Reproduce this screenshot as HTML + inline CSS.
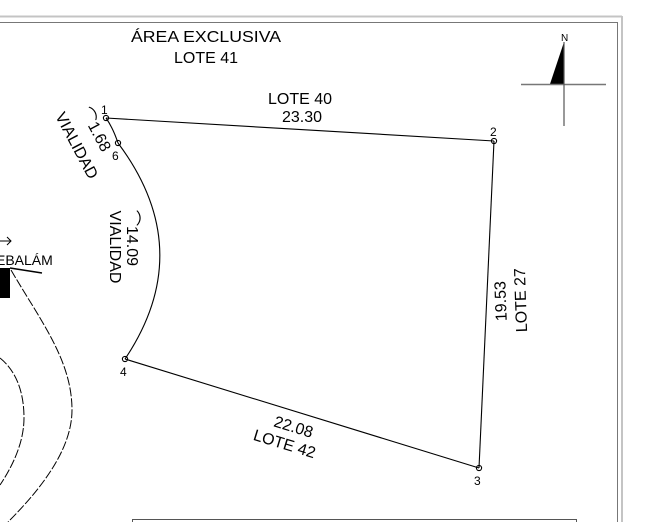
<!DOCTYPE html><html><head><style>body{margin:0;background:#fff}svg{display:block}text{font-family:"Liberation Sans",sans-serif;fill:#000}</style></head><body>
<svg width="647" height="522" viewBox="0 0 647 522">
<line x1="0" y1="16.5" x2="622" y2="16.5" stroke="#c4c4c4" stroke-width="2"/>
<line x1="622" y1="16" x2="622" y2="522" stroke="#c4c4c4" stroke-width="2"/>
<line x1="0" y1="22.5" x2="617" y2="22.5" stroke="#777" stroke-width="1"/>
<line x1="617.5" y1="22" x2="617.5" y2="522" stroke="#777" stroke-width="1"/>
<rect x="132.5" y="519.5" width="444" height="10" fill="none" stroke="#555"/>
<polygon points="564,42 564,84 550,84" fill="#000"/>
<line x1="521" y1="84.5" x2="606" y2="84.5" stroke="#777" stroke-width="1.5"/>
<line x1="564" y1="42" x2="564" y2="126" stroke="#555" stroke-width="1.2"/>
<text x="561" y="41" font-size="10">N</text>
<text x="131" y="42" font-size="16" textLength="150" lengthAdjust="spacingAndGlyphs">ÁREA EXCLUSIVA</text>
<text x="206" y="63" font-size="16" text-anchor="middle">LOTE 41</text>
<g stroke="#000" stroke-width="1.1" fill="none">
<line x1="106" y1="118" x2="494" y2="141"/>
<line x1="494" y1="141" x2="479" y2="468"/>
<line x1="479" y1="468" x2="125" y2="359"/>
<path d="M106,118 Q113,128 118,143"/>
<path d="M118,143 Q198,250 125,359"/>
<circle cx="106" cy="118" r="2.6"/><circle cx="494" cy="141" r="2.6"/>
<circle cx="479" cy="468" r="2.6"/><circle cx="125" cy="359" r="2.6"/><circle cx="118" cy="143" r="2.6"/>
</g>
<text x="101" y="114" font-size="12">1</text>
<text x="490" y="136" font-size="12">2</text>
<text x="474" y="485" font-size="12">3</text>
<text x="120" y="376" font-size="12">4</text>
<text x="112" y="160" font-size="12">6</text>
<text x="300" y="104" font-size="16" text-anchor="middle">LOTE 40</text>
<text x="302" y="122" font-size="16" text-anchor="middle">23.30</text>
<text transform="translate(506,301) rotate(-92)" font-size="16" text-anchor="middle">19.53</text>
<text transform="translate(526,300) rotate(-92)" font-size="16" text-anchor="middle">LOTE 27</text>
<text transform="translate(292,432) rotate(17)" font-size="16" text-anchor="middle">22.08</text>
<text transform="translate(283,449) rotate(17)" font-size="16" text-anchor="middle">LOTE 42</text>
<text transform="translate(110,247) rotate(90)" font-size="16" text-anchor="middle">VIALIDAD</text>
<text transform="translate(127,238) rotate(90)" font-size="16" text-anchor="middle">⌒14.09</text>
<text transform="translate(72,148) rotate(62)" font-size="16" text-anchor="middle">VIALIDAD</text>
<text transform="translate(91,132) rotate(62)" font-size="16" text-anchor="middle">⌒1.68</text>
<path d="M0,241 H11 M7,237 L11,241 L7,245" stroke="#000" stroke-width="1" fill="none"/>
<text x="-4" y="265" font-size="14">EBALÁM</text>
<rect x="0" y="268" width="10" height="30" fill="#000"/>
<line x1="10" y1="268" x2="42" y2="273" stroke="#000" stroke-width="1.5"/>
<g stroke="#000" stroke-width="1" fill="none" stroke-dasharray="9,2">
<path d="M11,270 C40,320 72,360 72,410 C72,450 40,490 8,522"/>
<path d="M0,358 C15,370 24,390 24,418 C24,445 10,470 0,485"/>
</g>
</svg></body></html>
